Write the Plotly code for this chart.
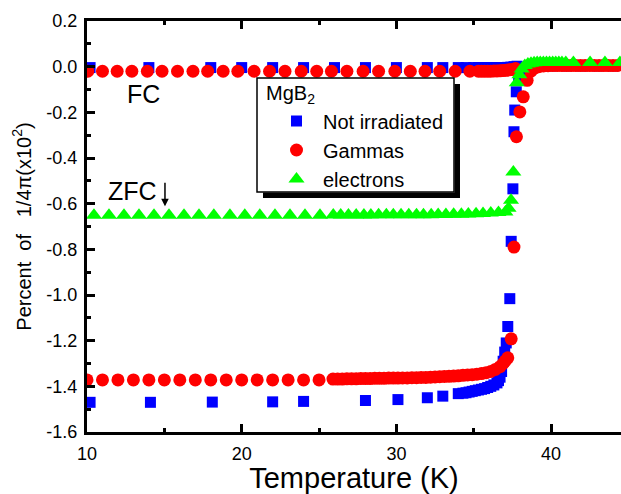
import plotly.graph_objects as go

# ---------------- data ----------------
# Not irradiated (blue squares): ZFC warming branch
blue_zfc_t = [10.2, 14.1, 18.1, 22.0, 24.0, 28.0, 30.1, 32.0, 33.0, 34.0, 34.3, 34.5, 34.7, 34.9,
              35.1, 35.3, 35.5, 35.7, 35.9, 36.1, 36.3, 36.5, 36.6, 36.7, 36.8, 36.9, 37.0, 37.1,
              37.2, 37.33, 37.42, 37.53, 37.6, 37.65, 37.75, 37.9, 38.05, 38.3, 38.6, 39.0, 39.5,
              40.0, 41.0, 42.0, 43.0, 44.0]
blue_zfc_v = [-1.470, -1.470, -1.469, -1.468, -1.466, -1.462, -1.458, -1.450, -1.443, -1.432, -1.430,
              -1.428, -1.425, -1.422, -1.419, -1.416, -1.413, -1.410, -1.405, -1.400, -1.394, -1.385,
              -1.375, -1.360, -1.335, -1.290, -1.250, -1.210, -1.138, -1.016, -0.765, -0.535, -0.285,
              -0.190, -0.110, -0.060, -0.030, -0.010, 0.000, 0.002, 0.003, 0.003, 0.003, 0.003,
              0.003, 0.003]
# Not irradiated: FC cooling branch
blue_fc_t = [10.2, 14.0, 18.0, 20.0, 22.0, 24.0, 26.0, 28.0, 30.0, 32.0, 33.0, 34.0, 34.5, 35.0,
             35.3, 35.6, 35.9, 36.2, 36.5, 36.8, 37.0, 37.2, 37.4, 37.6, 37.8]
blue_fc_v = [-0.004, -0.004, -0.004, -0.004, -0.004, -0.004, -0.004, -0.004, -0.004, -0.004, -0.004,
             -0.004, -0.004, -0.004, -0.004, -0.004, -0.004, -0.004, -0.004, -0.004, -0.004, -0.003,
             -0.002, 0.000, 0.002]

# Gammas (red circles): ZFC warming branch
red_zfc_t = [10.0, 11.0, 12.0, 13.0, 14.0, 15.0, 16.0, 17.0, 18.0, 19.0, 20.0, 21.0, 22.0, 23.0,
             24.0, 25.0, 25.9, 26.2, 26.5, 26.8, 27.1, 27.4, 27.7, 28.0, 28.3, 28.6, 28.9, 29.2,
             29.5, 29.8, 30.1, 30.4, 30.7, 31.0, 31.3, 31.6, 31.9, 32.2, 32.5, 32.8, 33.1, 33.4,
             33.7, 34.0, 34.3, 34.6, 34.9, 35.2, 35.5, 35.8, 36.1, 36.4, 36.7, 36.9, 37.05, 37.2,
             37.42, 37.6, 37.76, 37.98, 38.2, 38.45, 38.7, 38.95, 39.2, 39.5, 39.8, 40.1, 40.4,
             40.7, 41.0, 41.3, 41.6, 41.9, 42.2, 42.5, 42.8, 43.1, 43.4, 43.7, 44.0, 44.3]
red_zfc_v = [-1.372, -1.372, -1.372, -1.372, -1.372, -1.372, -1.372, -1.372, -1.372, -1.372, -1.372,
             -1.372, -1.372, -1.372, -1.372, -1.372, -1.368, -1.368, -1.368, -1.367, -1.367, -1.367,
             -1.366, -1.366, -1.366, -1.365, -1.365, -1.365, -1.364, -1.364, -1.364, -1.363, -1.363,
             -1.362, -1.362, -1.361, -1.361, -1.360, -1.359, -1.358, -1.357, -1.356, -1.355, -1.354,
             -1.352, -1.350, -1.349, -1.347, -1.344, -1.340, -1.335, -1.326, -1.314, -1.300, -1.288,
             -1.275, -1.192, -0.790, -0.307, -0.198, -0.132, -0.060, -0.020, -0.005, 0.000, 0.003,
             0.004, 0.005, 0.005, 0.005, 0.005, 0.005, 0.005, 0.005, 0.005, 0.005, 0.005, 0.005,
             0.005, 0.005, 0.005, 0.005]
# Gammas: FC cooling branch
red_fc_t = [10.05, 11.0, 11.95, 12.9, 13.9, 14.85, 15.85, 16.85, 17.8, 18.8, 19.75, 20.8, 21.8,
            22.8, 23.85, 24.85, 25.8, 26.8, 27.85, 28.85, 29.9, 30.9, 31.85, 32.8, 33.8, 34.75,
            35.3, 35.5, 35.7, 35.9, 36.1, 36.3, 36.5, 36.7, 36.9, 37.1, 37.3, 37.5, 37.7]
red_fc_v = [-0.020, -0.020, -0.020, -0.020, -0.020, -0.020, -0.020, -0.020, -0.020, -0.020, -0.020,
            -0.020, -0.020, -0.020, -0.020, -0.020, -0.020, -0.020, -0.020, -0.020, -0.020, -0.020,
            -0.020, -0.020, -0.020, -0.020, -0.020, -0.020, -0.020, -0.020, -0.020, -0.019, -0.019,
            -0.018, -0.017, -0.016, -0.014, -0.012, -0.008]

# electrons (green triangles): ZFC warming branch and above Tc
green_t = [10.45, 11.42, 12.39, 13.36, 14.33, 15.3, 16.27, 17.24, 18.2, 19.24, 20.2, 21.17, 22.15,
           23.12, 24.09, 25.06, 25.92, 26.4, 26.9, 27.4, 27.9, 28.35, 28.85, 29.35, 29.8, 30.3,
           30.8, 31.3, 31.75, 32.25, 32.7, 33.2, 33.7, 34.2, 34.65, 35.15, 35.6, 36.1, 36.6,
           37.05, 37.25, 37.41, 37.56, 37.78, 37.95, 38.1, 38.3, 38.5, 38.7, 38.9, 39.1, 39.3,
           39.5, 39.7, 39.9, 40.1, 40.3, 40.5, 40.7, 40.95, 41.44, 42.52, 43.48, 44.45]
green_v = [-0.651, -0.651, -0.651, -0.651, -0.651, -0.651, -0.651, -0.651, -0.651, -0.651, -0.651,
           -0.651, -0.651, -0.651, -0.651, -0.651, -0.650, -0.650, -0.650, -0.650, -0.650, -0.650,
           -0.649, -0.649, -0.649, -0.649, -0.648, -0.648, -0.648, -0.648, -0.647, -0.647, -0.646,
           -0.646, -0.645, -0.644, -0.643, -0.641, -0.639, -0.636, -0.620, -0.585, -0.461, -0.070,
           -0.035, -0.010, 0.005, 0.012, 0.015, 0.017, 0.018, 0.018, 0.018, 0.018, 0.018, 0.018,
           0.018, 0.018, 0.018, 0.018, 0.018, 0.018, 0.018, 0.018]

x_tick_vals = [10, 20, 30, 40]
x_tick_text = ["10", "20", "30", "40"]
x_minor_vals = [15, 25, 35, 45]
y_tick_vals = [-1.6, -1.4, -1.2, -1.0, -0.8, -0.6, -0.4, -0.2, 0.0, 0.2]
y_tick_text = ["-1.6", "-1.4", "-1.2", "-1.0", "-0.8", "-0.6", "-0.4", "-0.2", "0.0", "0.2"]
y_minor_vals = [-1.5, -1.3, -1.1, -0.9, -0.7, -0.5, -0.3, -0.1, 0.1]

series_names = ["Not irradiated", "Gammas", "electrons"]
legend_title = "MgB<sub>2</sub>"

# ---------------- figure ----------------
FONT = "Liberation Sans, Arial, Helvetica, sans-serif"
W, H = 621, 494
ML, MT, MB, MR = 87, 21, 62, 0

fig = go.Figure()
fig.add_trace(go.Scatter(
    x=blue_zfc_t + blue_fc_t, y=blue_zfc_v + blue_fc_v, mode="markers", name=series_names[0],
    marker=dict(symbol="square", size=11, color="#0000FF", line=dict(width=0))))
fig.add_trace(go.Scatter(
    x=red_zfc_t + red_fc_t, y=red_zfc_v + red_fc_v, mode="markers", name=series_names[1],
    marker=dict(symbol="circle", size=13, color="#FF0000", line=dict(width=0))))
fig.add_trace(go.Scatter(
    x=green_t, y=green_v, mode="markers", name=series_names[2],
    marker=dict(symbol="triangle-up", size=14, color="#00FF00", line=dict(width=0))))

plot_w = W - ML - MR
x_end = 10 + plot_w / 15.47

fig.update_xaxes(
    range=[10, x_end], tickmode="array", tickvals=x_tick_vals, ticktext=x_tick_text,
    showgrid=False, zeroline=False, showline=True, linecolor="black", linewidth=3, mirror="ticks",
    ticks="inside", ticklen=8, tickwidth=2.5, tickcolor="black",
    tickfont=dict(family=FONT, size=18, color="black"), ticklabelstandoff=3,
    minor=dict(tickmode="array", tickvals=x_minor_vals, ticks="inside", ticklen=4,
               tickwidth=2.5, tickcolor="black", showgrid=False),
    title=dict(text="Temperature (K)", font=dict(family=FONT, size=29, color="black"), standoff=0),
    automargin=False,
)
fig.update_yaxes(
    range=[-1.6, 0.2], tickmode="array", tickvals=y_tick_vals, ticktext=y_tick_text,
    showgrid=False, zeroline=False, showline=True, linecolor="black", linewidth=3, mirror=False,
    ticks="inside", ticklen=8, tickwidth=2.5, tickcolor="black",
    tickfont=dict(family=FONT, size=18, color="black"), ticklabelstandoff=3,
    minor=dict(tickmode="array", tickvals=y_minor_vals, ticks="inside", ticklen=4,
               tickwidth=2.5, tickcolor="black", showgrid=False),
    title=dict(text="Percent\u00a0 of\u00a0\u00a0 1/4\u03c0(x10<sup>2</sup>)",
               font=dict(family=FONT, size=20, color="black"), standoff=10),
    automargin=False,
)

ph = H - MT - MB
def px_x(p):
    return (p - ML) / plot_w
def px_y(p):
    return (H - MB - p) / ph

fig.update_layout(
    width=W, height=H, margin=dict(l=ML, r=MR, t=MT, b=MB, pad=0, autoexpand=False),
    paper_bgcolor="white", plot_bgcolor="white",
    font=dict(family=FONT, color="black"),
    legend=dict(
        x=px_x(270), y=px_y(101.5), xanchor="left", yanchor="top",
        bgcolor="rgba(0,0,0,0)", borderwidth=0,
        font=dict(family=FONT, size=20, color="black"),
        itemwidth=43, tracegroupgap=0,
    ),
    shapes=[
        # legend frame
        dict(type="rect", xref="paper", yref="paper",
             x0=px_x(257), x1=px_x(454), y0=px_y(192), y1=px_y(78),
             fillcolor="white", line=dict(color="black", width=1.5), layer="above"),
        # drop shadow: right strip and bottom strip
        dict(type="rect", xref="paper", yref="paper",
             x0=px_x(454.5), x1=px_x(460), y0=px_y(198), y1=px_y(84),
             fillcolor="black", line=dict(width=0), layer="above"),
        dict(type="rect", xref="paper", yref="paper",
             x0=px_x(263), x1=px_x(460), y0=px_y(198), y1=px_y(192.5),
             fillcolor="black", line=dict(width=0), layer="above"),
    ],
    annotations=[
        dict(x=px_x(264), y=px_y(80), xref="paper", yref="paper", xanchor="left", yanchor="top",
             text=legend_title, showarrow=False, font=dict(family=FONT, size=20, color="black")),
        dict(x=13.62, y=-0.12, xref="x", yref="y", text="FC", showarrow=False,
             font=dict(family=FONT, size=25, color="black")),
        dict(x=12.94, y=-0.546, xref="x", yref="y", text="ZFC", showarrow=False,
             font=dict(family=FONT, size=25, color="black")),
        dict(x=15.04, y=-0.611, xref="x", yref="y", text="", showarrow=True,
             ax=0, ay=-25, arrowhead=2, arrowsize=1, arrowwidth=1.5, arrowcolor="black",
             standoff=0),
    ],
)

fig.write_html("out.html", config={"displayModeBar": False},
               post_script="document.body.style.margin='0px';")
